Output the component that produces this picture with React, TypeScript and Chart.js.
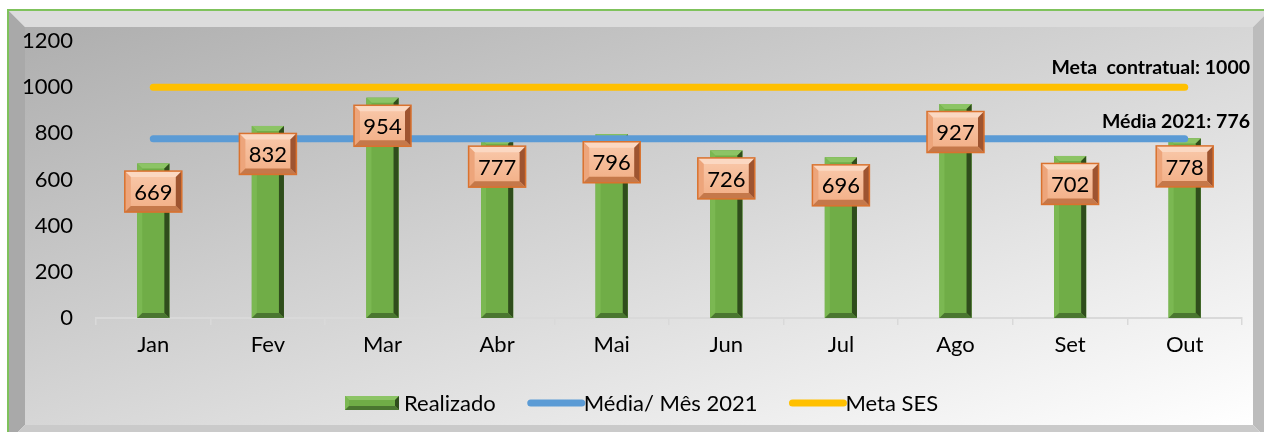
import React, { useEffect, useRef } from "react";
import { Chart, registerables } from "chart.js";

Chart.register(...registerables);

const categories = ["Jan", "Fev", "Mar", "Abr", "Mai", "Jun", "Jul", "Ago", "Set", "Out"];
const realizado = [669, 832, 954, 777, 796, 726, 696, 927, 702, 778];
const mediaMes = [776, 776, 776, 776, 776, 776, 776, 776, 776, 776];
const metaSes = [1000, 1000, 1000, 1000, 1000, 1000, 1000, 1000, 1000, 1000];
const seriesNames = ["Realizado", "Média/ Mês 2021", "Meta SES"];
const mediaLabel = "Média 2021: ";
const metaLabel = "Meta  contratual: ";
const yTicks = { min: 0, max: 1200, step: 200 };

const FONT = 'Lato, "Open Sans", sans-serif';
const W = 1264;
const H = 432;

function poly(ctx: CanvasRenderingContext2D, pts: number[][], color: string) {
  ctx.beginPath();
  ctx.moveTo(pts[0][0], pts[0][1]);
  for (let i = 1; i < pts.length; i++) ctx.lineTo(pts[i][0], pts[i][1]);
  ctx.closePath();
  ctx.fillStyle = color;
  ctx.fill();
}

function bevel(
  ctx: CanvasRenderingContext2D,
  l: number, t: number, r: number, b: number, s: number,
  face: string | CanvasGradient, top: string, left: string, right: string, bottom: string
) {
  ctx.fillStyle = face;
  ctx.fillRect(l, t, r - l, b - t);
  poly(ctx, [[l, t], [r, t], [r - s, t + s], [l + s, t + s]], top);
  poly(ctx, [[l, t], [l + s, t + s], [l + s, b - s], [l, b]], left);
  poly(ctx, [[r, t], [r, b], [r - s, b - s], [r - s, t + s]], right);
  poly(ctx, [[l, b], [r, b], [r - s, b - s], [l + s, b - s]], bottom);
}

function greenBevel(ctx: CanvasRenderingContext2D, l: number, t: number, r: number, b: number, s: number) {
  bevel(ctx, l, t, r, b, s, "#70ad47", "#8cc465", "#7bb852", "#2f4d1c", "#4a7630");
}

const framePlugin = {
  id: "frame",
  beforeDraw(chart: any) {
    const ctx: CanvasRenderingContext2D = chart.ctx;
    ctx.save();
    ctx.fillStyle = "#ffffff";
    ctx.fillRect(0, 0, W, H);
    const oL = 9, oT = 11, oR = 1269, oB = 441;
    const iL = 25, iT = 27, iR = 1253, iB = 425;
    ctx.save();
    ctx.beginPath();
    ctx.rect(iL, iT, iR - iL, iB - iT);
    ctx.clip();
    ctx.translate(iL, iT);
    ctx.scale(iR - iL, iB - iT);
    const g = ctx.createLinearGradient(0, 0, 1, 1);
    g.addColorStop(0, "#aeaeae");
    g.addColorStop(0.5, "#d6d6d6");
    g.addColorStop(1, "#ffffff");
    ctx.fillStyle = g;
    ctx.fillRect(0, 0, 1, 1);
    ctx.restore();
    poly(ctx, [[oL, oT], [oR, oT], [iR, iT], [iL, iT]], "#dcdcdc");
    poly(ctx, [[oL, oT], [iL, iT], [iL, iB], [oL, oB]], "#a9a9a9");
    poly(ctx, [[oR, oT], [oR, oB], [iR, iB], [iR, iT]], "#bcbcbc");
    poly(ctx, [[oL, oB], [oR, oB], [iR, iB], [iL, iB]], "#cacaca");
    ctx.strokeStyle = "#7fc25c";
    ctx.lineWidth = 2;
    ctx.beginPath();
    ctx.moveTo(8, H + 5);
    ctx.lineTo(8, 10);
    ctx.lineTo(W + 5, 10);
    ctx.stroke();
    ctx.restore();
  },
  afterDatasetDraw(chart: any, args: any) {
    if (args.index !== 0) return;
    const ctx: CanvasRenderingContext2D = chart.ctx;
    ctx.save();
    args.meta.data.forEach((bar: any) => {
      const half = bar.width / 2;
      greenBevel(ctx, bar.x - half, bar.y, bar.x + half, bar.base, 5);
    });
    ctx.restore();
  },
  afterDatasetsDraw(chart: any) {
    const ctx: CanvasRenderingContext2D = chart.ctx;
    const meta = chart.getDatasetMeta(0);
    ctx.save();
    meta.data.forEach((bar: any, i: number) => {
      const bw = 57, bh = 41;
      const cx = bar.x, cy = bar.y + 28;
      const l = cx - bw / 2, t = cy - bh / 2, r = cx + bw / 2, b = cy + bh / 2;
      const fg = ctx.createLinearGradient(0, t, 0, b);
      fg.addColorStop(0, "#f9c9ab");
      fg.addColorStop(1, "#f2ae85");
      bevel(ctx, l, t, r, b, 6, fg, "#fbd8c2", "#eda57b", "#9e5430", "#c5784a");
      ctx.strokeStyle = "#d9722f";
      ctx.lineWidth = 1.5;
      ctx.strokeRect(l, t, bw, bh);
      ctx.fillStyle = "#000000";
      ctx.font = `22px ${FONT}`;
      ctx.textAlign = "center";
      ctx.textBaseline = "middle";
      ctx.fillText(String(realizado[i]), cx, cy + 1);
    });
    const y = chart.scales.y;
    ctx.font = `bold 19.5px ${FONT}`;
    ctx.textAlign = "right";
    ctx.textBaseline = "alphabetic";
    ctx.fillStyle = "#000000";
    ctx.fillText(metaLabel + metaSes[metaSes.length - 1], 1250, y.getPixelForValue(metaSes[0]) - 13);
    ctx.fillText(mediaLabel + mediaMes[mediaMes.length - 1], 1250, y.getPixelForValue(mediaMes[0]) - 11);
    ctx.restore();
  },
  afterDraw(chart: any) {
    const ctx: CanvasRenderingContext2D = chart.ctx;
    ctx.save();
    ctx.font = `22px ${FONT}`;
    ctx.textBaseline = "middle";
    ctx.textAlign = "left";
    const cy = 403;
    let x = 345;
    const mw = 54;
    chart.data.datasets.forEach((ds: any, i: number) => {
      if (i === 0) {
        greenBevel(ctx, x, cy - 7, x + mw, cy + 7, 4);
      } else {
        ctx.strokeStyle = ds.borderColor;
        ctx.lineWidth = 7;
        ctx.lineCap = "round";
        ctx.beginPath();
        ctx.moveTo(x + 4, cy);
        ctx.lineTo(x + mw + 1, cy);
        ctx.stroke();
      }
      x += mw + (i === 0 ? 5 : 3);
      ctx.fillStyle = "#000000";
      ctx.fillText(ds.label, x, cy + 1);
      x += ctx.measureText(ds.label).width + 31;
    });
    ctx.restore();
  },
};

export default function App() {
  const ref = useRef<HTMLCanvasElement>(null);
  useEffect(() => {
    if (!ref.current) return;
    const chart = new Chart(ref.current, {
      type: "bar",
      data: {
        labels: categories,
        datasets: [
          {
            type: "bar",
            label: seriesNames[0],
            data: realizado,
            backgroundColor: "#70ad47",
            barPercentage: 0.28,
            categoryPercentage: 1,
            order: 2,
          },
          {
            type: "line",
            label: seriesNames[1],
            data: mediaMes,
            borderColor: "#5b9bd5",
            borderWidth: 7,
            borderCapStyle: "round",
            pointRadius: 0,
            fill: false,
            order: 1,
          },
          {
            type: "line",
            label: seriesNames[2],
            data: metaSes,
            borderColor: "#ffc000",
            borderWidth: 7,
            borderCapStyle: "round",
            pointRadius: 0,
            fill: false,
            order: 1,
          },
        ] as any,
      },
      options: {
        responsive: false,
        animation: false,
        devicePixelRatio: 1,
        layout: { padding: { left: 0, right: 22, top: 41, bottom: 0 } },
        plugins: { legend: { display: false }, tooltip: { enabled: false } },
        scales: {
          x: {
            offset: true,
            grid: {
              display: true,
              drawOnChartArea: false,
              offset: true,
              tickLength: 7,
              color: "#d9d9d9",
              lineWidth: 1.5,
            },
            border: { display: true, color: "#d9d9d9", width: 2 },
            ticks: { color: "#000000", font: { family: FONT, size: 22 }, padding: 7, maxRotation: 0 },
            afterFit(scale: any) {
              scale.height = H - 318;
            },
          },
          y: {
            min: yTicks.min,
            max: yTicks.max,
            ticks: {
              stepSize: yTicks.step,
              color: "#000000",
              font: { family: FONT, size: 22 },
              padding: 15,
              callback: (v: any) => String(v),
            },
            grid: { display: false },
            border: { display: false },
            afterFit(scale: any) {
              scale.width = 96;
            },
          },
        },
      } as any,
      plugins: [framePlugin],
    });
    return () => chart.destroy();
  }, []);
  return (
    <div style={{ position: "absolute", left: 0, top: 0, width: W, height: H }}>
      <canvas ref={ref} width={W} height={H} style={{ display: "block", width: W, height: H }} />
    </div>
  );
}
